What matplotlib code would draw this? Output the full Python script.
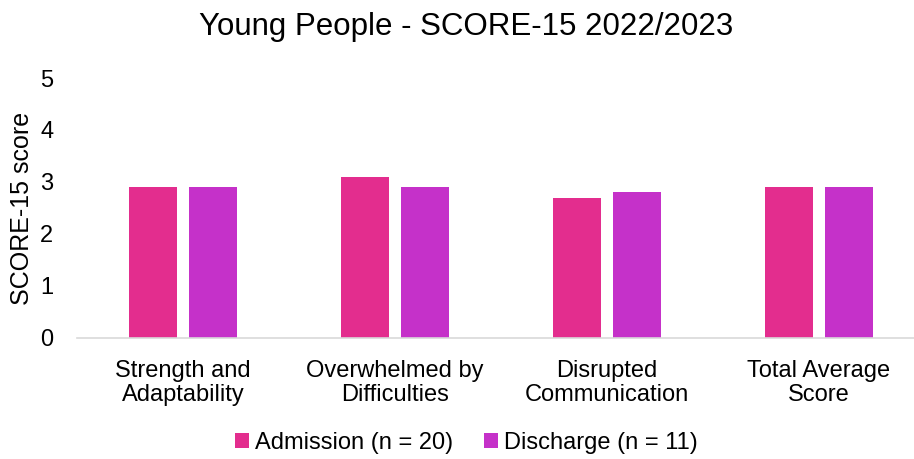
import matplotlib.pyplot as plt
import numpy as np

plt.rcParams['font.family'] = ['Liberation Sans', 'DejaVu Sans']

categories = ['Strength and\nAdaptability', 'Overwhelmed by\nDifficulties',
              'Disrupted\nCommunication', 'Total Average\nScore']
admission = [2.9, 3.1, 2.7, 2.9]
discharge = [2.9, 2.9, 2.8, 2.9]
series_labels = ['Admission (n = 20)', 'Discharge (n = 11)']
colors = ['#E32D8E', '#C531C9']

W, H = 914, 459
fig = plt.figure(figsize=(W / 100, H / 100), dpi=100)
ax = fig.add_axes([77 / W, (H - 338) / H, (914 - 77) / W, (338 - 78) / H])

x = np.arange(len(categories))
width = 0.227
ax.bar(x - 0.142, admission, width, color=colors[0], label=series_labels[0])
ax.bar(x + 0.142, discharge, width, color=colors[1], label=series_labels[1])

ax.set_xlim(-0.5, 3.45)
ax.set_ylim(0, 5)
ax.set_yticks(range(6))
ax.set_xticks(x)
ax.set_xticklabels(categories, fontsize=17, linespacing=1.1)
ax.tick_params(axis='y', labelsize=17, length=0, pad=17)
ax.tick_params(axis='x', length=0, pad=16)

for side in ['top', 'right', 'left']:
    ax.spines[side].set_visible(False)
ax.spines['bottom'].set_color('#D9D9D9')
ax.spines['bottom'].set_linewidth(1.2)

fig.text(22 / W, 1 - 208 / H, 'SCORE-15 score', rotation=90,
         ha='center', va='center', fontsize=18)

fig.text(466 / W, 1 - 27 / H, 'Young People - SCORE-15 2022/2023',
         ha='center', va='center', fontsize=22.5)

fig.legend(loc='center', bbox_to_anchor=(466 / W, 1 - 443 / H), ncol=2,
           frameon=False, fontsize=17, handlelength=0.6, handleheight=0.6,
           handletextpad=0.25, columnspacing=1.3)

fig.savefig('out.png', dpi=100)
